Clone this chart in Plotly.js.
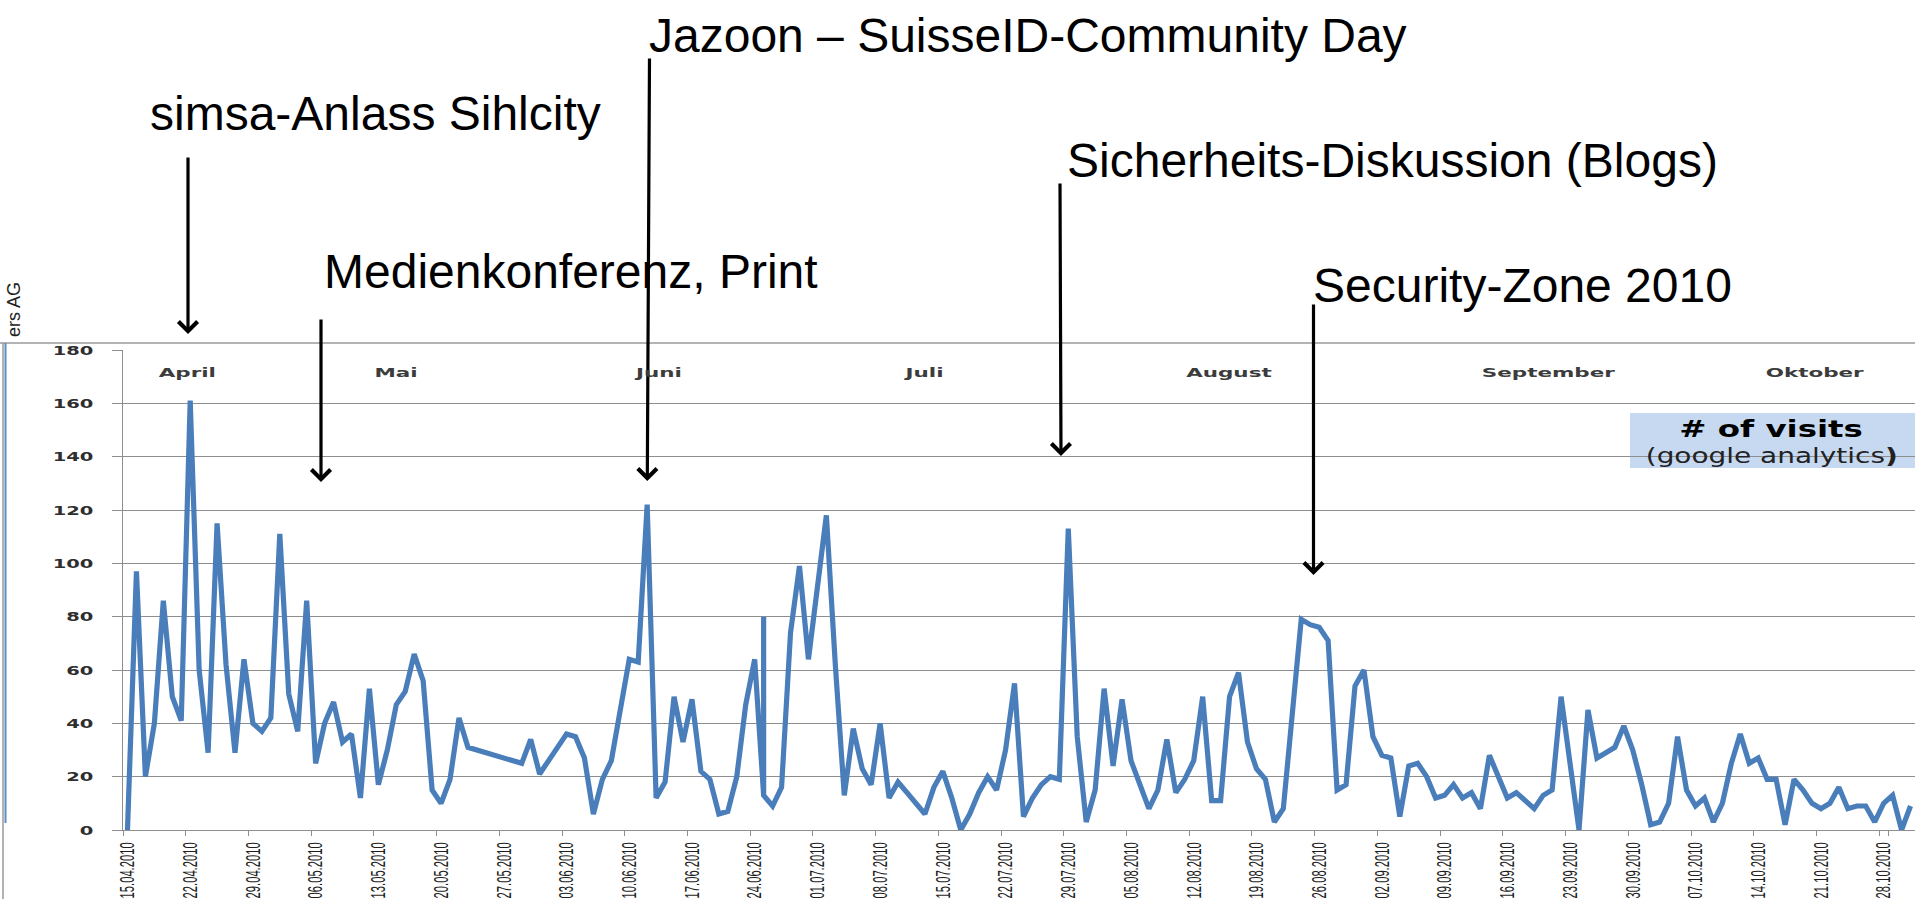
<!DOCTYPE html>
<html>
<head>
<meta charset="utf-8">
<script src="https://cdn.plot.ly/plotly-3.0.1.min.js"></script>
<style>
html,body{margin:0;padding:0;background:#fff;overflow:hidden;}
#chart{width:1915px;height:899px;}
</style>
</head>
<body>
<div id="chart"></div>
<script>
// ---------------- data ----------------
const firstDay = '2010-04-15';
// daily visits from 15.04.2010 (null = no value, line connects across;
// a list = several readings recorded for the same day)
const visits = [
  0, 97, 20, 40, 86, 50, 41, 161, 60, 29,
  115, 62, 29, 64, 40, 37, 42, 111, 51, 37,
  86, 25, 40, 48, 33, 36, 12, 53, 17, 30,
  47, 52, 66, 56, 15, 10, 19, 42, 31, null,
  null, null, null, null, 25, 34, 21, 26, 31, 36,
  35, 27, 6, 19, 26, 44, 64, 63, 122, 12,
  18, 50, 33, 49, 22, 19, 6, 7, 20, 47,
  64, [13, 80, 13], 9, 16, 74, 99, 64, 92, 118, 62,
  13, 38, 23, 17, 40, 12, 18, 14, 10, 6,
  16, 22, 12, 0, 6, 14, 20, 15, 30, 55,
  5, 12, 17, 20, 19, 113, 35, 3, 15, 53,
  24, 49, 26, 17, 8, 15, 34, 14, 19, 26,
  50, 11, 11, 50, 59, 33, 23, 19, 3, 8,
  43, 79, 77, 76, 71, 15, 17, 54, 60, 35,
  28, 27, 5, 24, 25, 20, 12, 13, 17, 12,
  14, 8, 28, 20, 12, 14, 11, 8, 13, 15,
  50, 25, 0, 45, 27, 29, 31, 39, 30, 17,
  2, 3, 10, 35, 15, 9, 12, 3, 10, 25,
  36, 25, 27, 19, 19, 2, 19, 15, 10, 8,
  10, 16, 8, 9, 9, 3, 10, 13, 0, 9
];
const tickLabels = ['15.04.2010','22.04.2010','29.04.2010','06.05.2010','13.05.2010','20.05.2010','27.05.2010',
  '03.06.2010','10.06.2010','17.06.2010','24.06.2010','01.07.2010','08.07.2010','15.07.2010','22.07.2010',
  '29.07.2010','05.08.2010','12.08.2010','19.08.2010','26.08.2010','02.09.2010','09.09.2010','16.09.2010',
  '23.09.2010','30.09.2010','07.10.2010','14.10.2010','21.10.2010','28.10.2010'];
const monthNames = ['April','Mai','Juni','Juli','August','September','Oktober'];
const eventNames = ['simsa-Anlass Sihlcity','Medienkonferenz, Print','Jazoon \u2013 SuisseID-Community Day',
  'Sicherheits-Diskussion (Blogs)','Security-Zone 2010'];
const boxTitle = '# of visits';
const boxSub = '(google analytics';
const sideText = 'ers AG';

// ---------------- categories & points ----------------
function fmt(d){
  return String(d.getUTCDate()).padStart(2,'0') + '.' + String(d.getUTCMonth()+1).padStart(2,'0') + '.' + d.getUTCFullYear();
}
const p0 = firstDay.split('-').map(Number);
const days = visits.map((_, i) => fmt(new Date(Date.UTC(p0[0], p0[1]-1, p0[2] + i))));
const xs = [], ys = [];
visits.forEach((v, i) => {
  (Array.isArray(v) ? v : [v]).forEach(val => { xs.push(days[i]); ys.push(val); });
});

// ---------------- layout helpers ----------------
const W = 1915, H = 899, ML = 123, MR = 0, MT = 350, MB = 69;
const PW = W - ML - MR, PH = H - MT - MB;
const px = x => (x - ML) / PW;
const py = y => (H - MB - y) / PH;

const GRID = '#8e8e8e';
const BLUE = '#4a7ebb';

const monthPos = [187, 396, 658, 924, 1229, 1548, 1815];
const eventLayout = [
  {tx:147.5, ty:113, tail:[188,156], tip:[188,334]},
  {tx:322, ty:271, tail:[321,318], tip:[321,482]},
  {tx:647, ty:35,  tail:[649.5,57], tip:[647.3,481]},
  {tx:1065, ty:160.5, tail:[1060,182], tip:[1061,456]},
  {tx:1310.5, ty:285, tail:[1313.5,303], tip:[1313.5,575]}
];

const annotations = [];
eventNames.forEach((name, i) => {
  const e = eventLayout[i];
  annotations.push({
    xref:'paper', yref:'paper', x:px(e.tx), y:py(e.ty), xanchor:'left', yanchor:'middle',
    text:name, showarrow:false,
    font:{family:'Liberation Sans, Arial, sans-serif', size:48, color:'#000'}
  });
  annotations.push({
    xref:'paper', yref:'paper', x:px(e.tip[0]), y:py(e.tip[1]),
    ax:e.tail[0]-e.tip[0], ay:e.tail[1]-e.tip[1],
    text:'', showarrow:true, arrowhead:4, arrowsize:1.15, arrowwidth:3.2, arrowcolor:'#000', standoff:0
  });
});
const stretchList = []; // [annotation index, horizontal stretch factor]
monthNames.forEach((m, i) => {
  stretchList.push([annotations.length, 1.65]);
  annotations.push({
    xref:'paper', yref:'paper', x:px(monthPos[i]), y:py(372), xanchor:'center', yanchor:'middle',
    text:m, showarrow:false,
    font:{family:'DejaVu Sans, Verdana, sans-serif', size:13, color:'#3c3c3c', weight:'bold'}
  });
});
stretchList.push([annotations.length, 1.41]);
annotations.push({
  xref:'paper', yref:'paper', x:px(1771), y:py(429), xanchor:'center', yanchor:'middle',
  text:boxTitle, showarrow:false,
  font:{family:'DejaVu Sans, Verdana, sans-serif', size:23, color:'#000', weight:'bold'}
});
stretchList.push([annotations.length, 1.33]);
annotations.push({
  xref:'paper', yref:'paper', x:px(1771), y:py(456), xanchor:'center', yanchor:'middle',
  text:boxSub + '<b>)</b>', showarrow:false,
  font:{family:'DejaVu Sans, Verdana, sans-serif', size:21, color:'#222'}
});
annotations.push({
  xref:'paper', yref:'paper', x:px(14), y:py(310), xanchor:'center', yanchor:'middle',
  text:sideText, textangle:-90, showarrow:false,
  font:{family:'Liberation Sans, Arial, sans-serif', size:18, color:'#222'}
});

const shapes = [
  {type:'line', xref:'paper', yref:'paper', x0:px(0), x1:px(W), y0:py(343), y1:py(343), line:{color:'#9a9a9a', width:1.5}},
  {type:'line', xref:'paper', yref:'paper', x0:px(3), x1:px(3), y0:py(343), y1:py(H), line:{color:'#9a9a9a', width:1.5}},
  {type:'line', xref:'paper', yref:'paper', x0:px(5.5), x1:px(5.5), y0:py(343), y1:py(823), line:{color:'#5b8ccb', width:2}},
  {type:'rect', xref:'paper', yref:'paper', x0:px(1630), x1:px(W), y0:py(468), y1:py(413), fillcolor:'#c6d9f1', line:{width:0}, layer:'below'}
];

const trace = {
  type:'scatter', mode:'lines', x:xs, y:ys, connectgaps:true,
  line:{color:BLUE, width:5.2}, hoverinfo:'skip'
};

const layout = {
  width:W, height:H,
  margin:{l:ML, r:MR, t:MT, b:MB, pad:0},
  paper_bgcolor:'#fff', plot_bgcolor:'#fff',
  showlegend:false,
  xaxis:{
    type:'category', categoryorder:'array', categoryarray:days,
    range:[-0.5, days.length - 0.5],
    tickmode:'array', tickvals:tickLabels, ticktext:tickLabels,
    tickson:'boundaries', ticks:'outside', ticklen:5, tickcolor:GRID, tickwidth:1,
    tickangle:-90, ticklabelstandoff:3,
    tickfont:{family:'Liberation Sans, Arial, sans-serif', size:21, color:'#1e1e1e'},
    showgrid:false, zeroline:false, showline:true, linecolor:GRID, linewidth:1,
    automargin:false, fixedrange:true
  },
  yaxis:{
    range:[0,180], tickmode:'linear', tick0:0, dtick:20,
    ticks:'outside', ticklen:10, tickcolor:GRID, tickwidth:1,
    showgrid:true, gridcolor:GRID, gridwidth:1,
    zeroline:false, showline:true, linecolor:GRID, linewidth:1,
    ticklabelstandoff:16,
    tickfont:{family:'DejaVu Sans, Verdana, sans-serif', size:13, color:'#2e2e2e', weight:'bold'},
    automargin:false, fixedrange:true
  },
  annotations:annotations,
  shapes:shapes
};

function setLen(t, len){
  t.setAttribute('textLength', len.toFixed(1));
  t.setAttribute('lengthAdjust', 'spacingAndGlyphs');
}
Plotly.newPlot('chart', [trace], layout, {displayModeBar:false, staticPlot:true}).then(() => {
  // the slide picture is stretched sideways: widen the chart texts, condense the vertical date labels
  document.querySelectorAll('.xtick text').forEach(t => setLen(t, 56));
  document.querySelectorAll('.ytick text').forEach(t => setLen(t, t.getComputedTextLength() * 1.5));
  stretchList.forEach(([idx, f]) => {
    const t = document.querySelector('g.annotation[data-index="' + idx + '"] text.annotation-text');
    if (t) setLen(t, t.getComputedTextLength() * f);
  });
});
</script>
</body>
</html>
